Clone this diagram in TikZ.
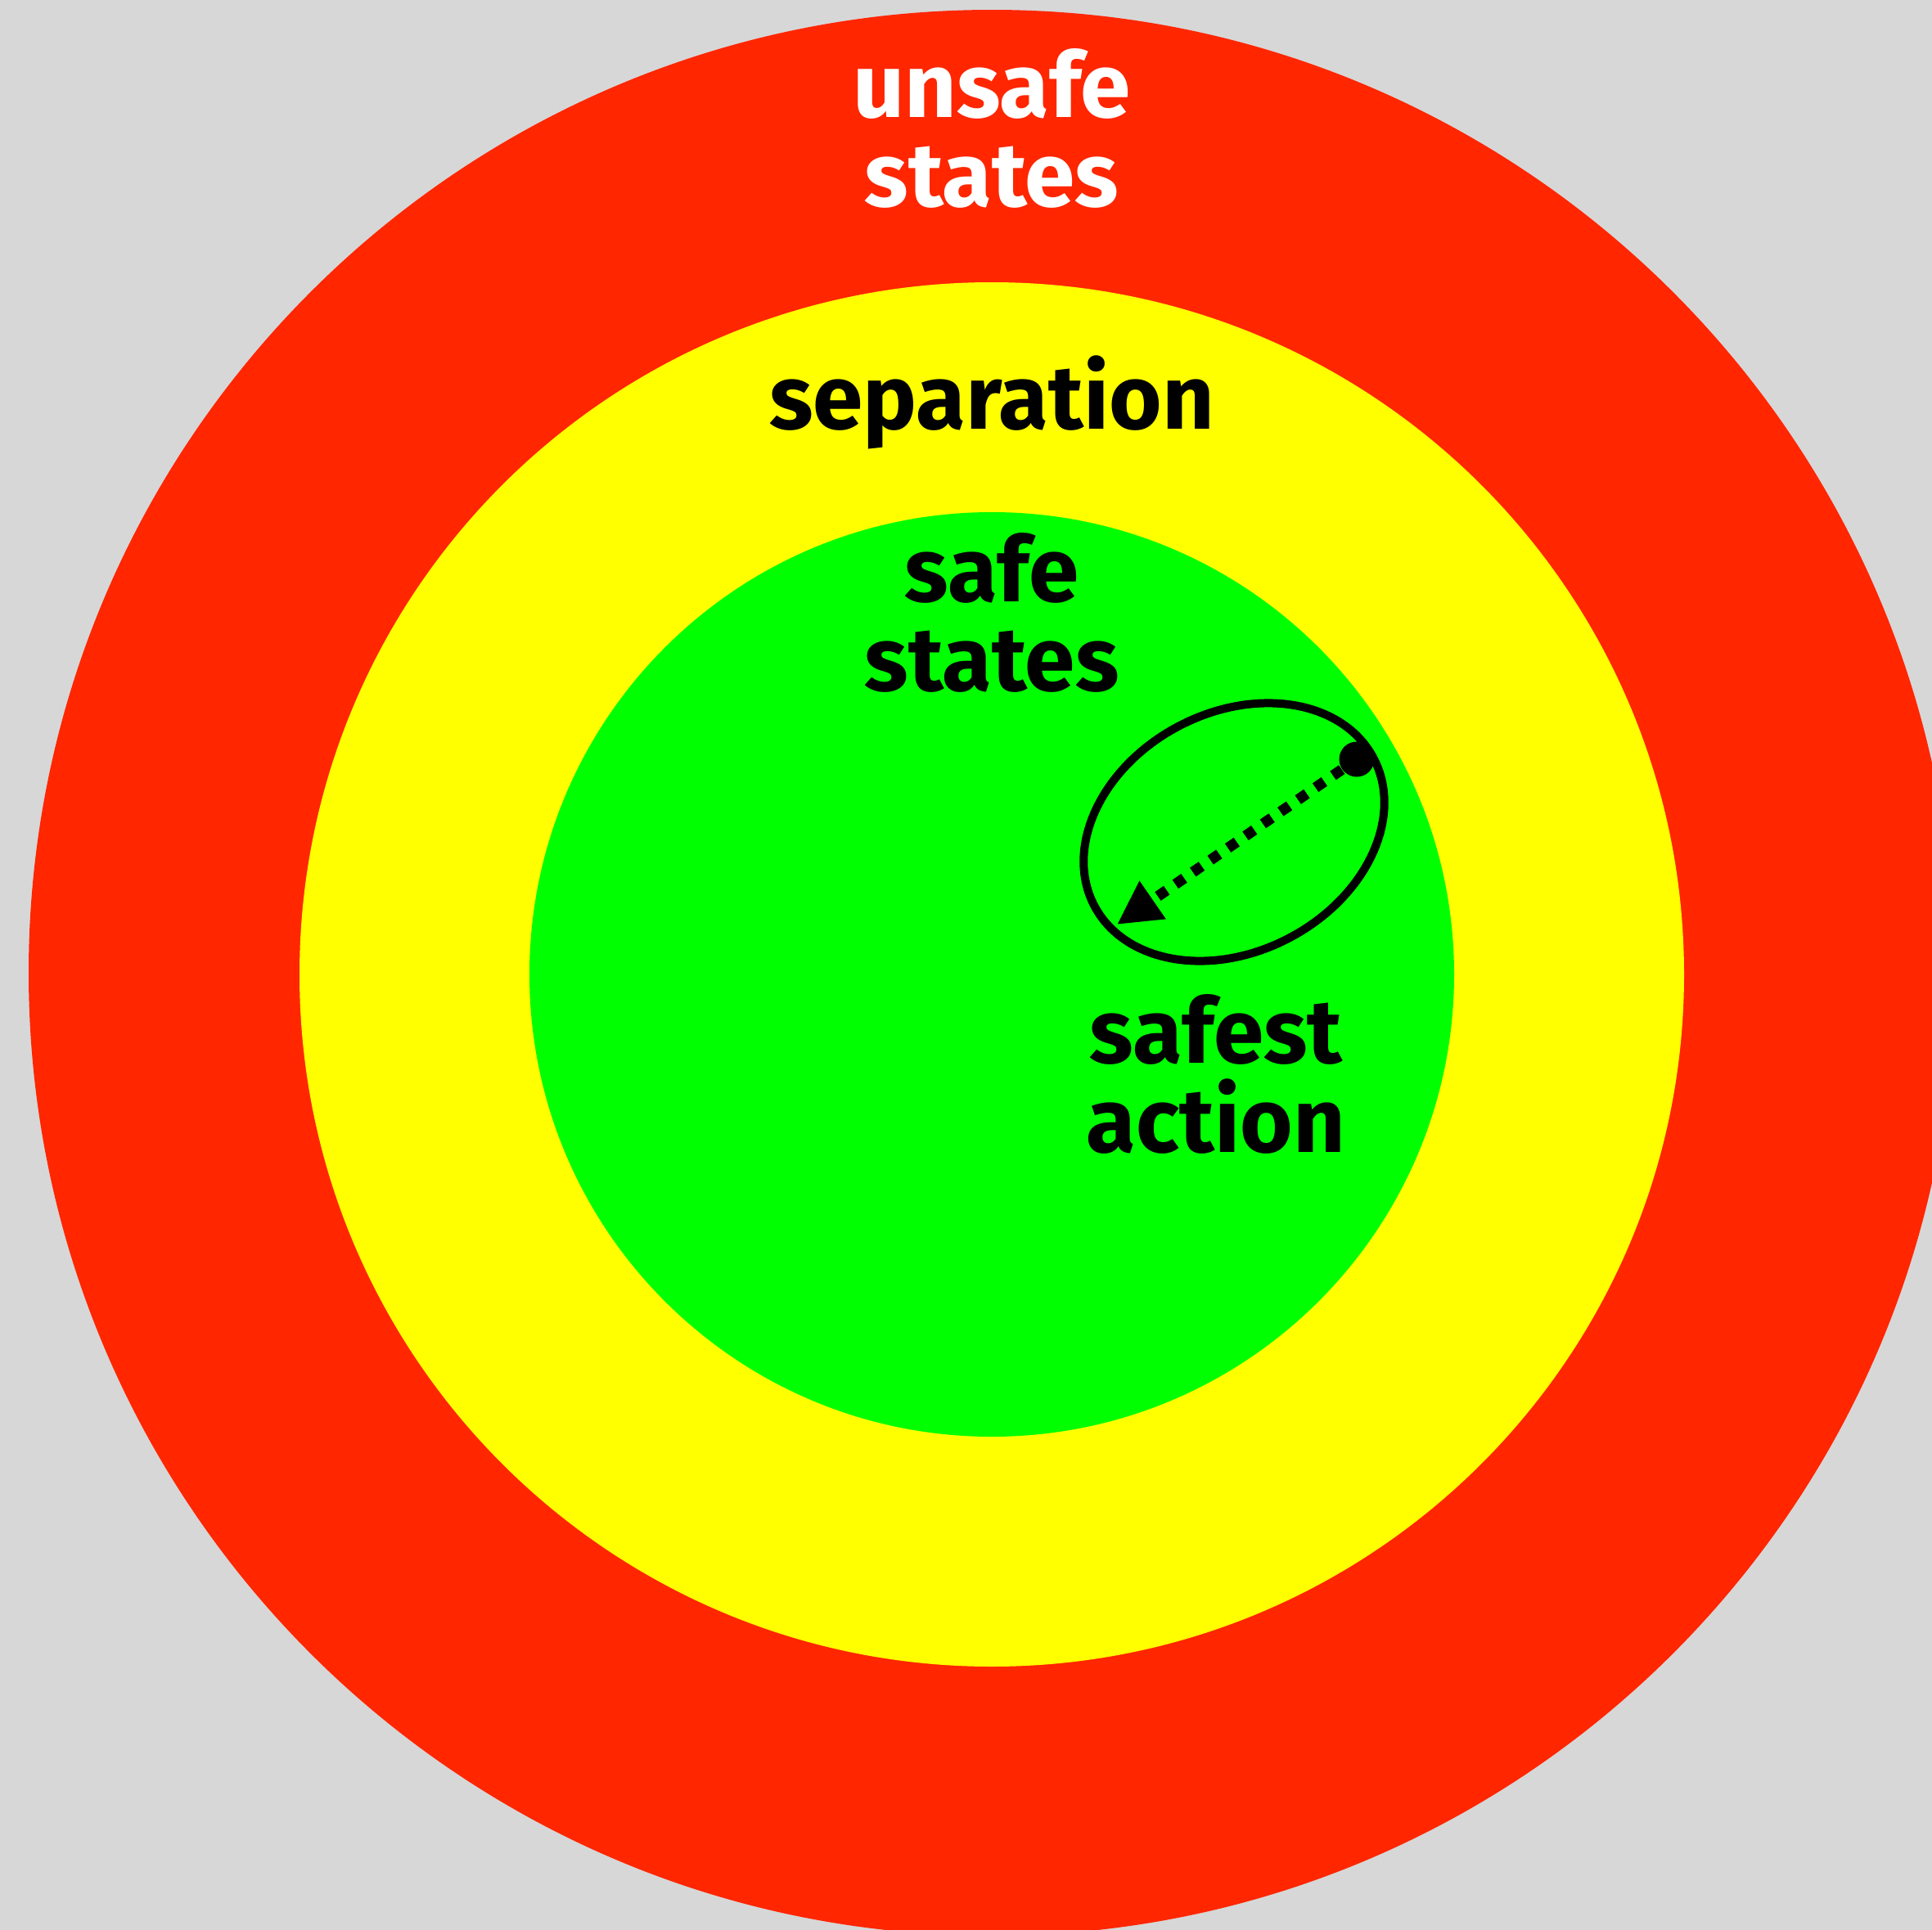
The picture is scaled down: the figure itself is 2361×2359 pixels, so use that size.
\documentclass[tikz,border=0pt]{standalone}
\usepackage{fontspec}
\setmainfont{Fira Sans}
\usetikzlibrary{arrows.meta}
\definecolor{bggray}{RGB}{215,215,215}
\definecolor{unsafered}{RGB}{255,38,0}
\definecolor{sepyellow}{RGB}{255,255,0}
\definecolor{safegreen}{RGB}{0,255,0}
\begin{document}
\begin{tikzpicture}[x=0.1mm,y=-0.1mm,>={Triangle[length=5.3mm,width=5.3mm]},
			every node/.style={inner sep=0},
			zonelabel/.style={anchor=base,align=center,font=\bfseries\fontsize{31.5}{31}\selectfont}]
			\useasboundingbox (0,0) rectangle (2361,2359);
			\clip (0,0) rectangle (2361,2359);
			\fill[bggray] (0,0) rectangle (2361,2359);
			% three zones round one centre
			\fill[unsafered] (1212,1189) circle[radius=1177];
			\fill[sepyellow] (1212,1191) circle[radius=846];
			\fill[safegreen] (1212,1191) circle[radius=565];
			% anchor base = last line
			\node[zonelabel,white] (unsafe) at (1212,252) {unsafe\\states};
			\node[zonelabel] (sep) at (1212,524) {separation};
			\node[zonelabel] (safe) at (1212,844) {safe\\states};
			\node[zonelabel] (safest) at (1486,1408) {safest\\action};
			% reachable set and the action
			\draw[line width=1mm,rotate around={28:(1508,1017)}] (1508,1017) ellipse[x radius=193,y radius=146];
			\node[circle,fill=black,minimum size=4.3mm] (start) at (1658,928) {};
			\coordinate (goal) at (1365,1130);
			\draw[->,line width=1.3mm,dash pattern=on 1.3mm off 1.3mm] (start) -- (goal);
		\end{tikzpicture}
\end{document}
